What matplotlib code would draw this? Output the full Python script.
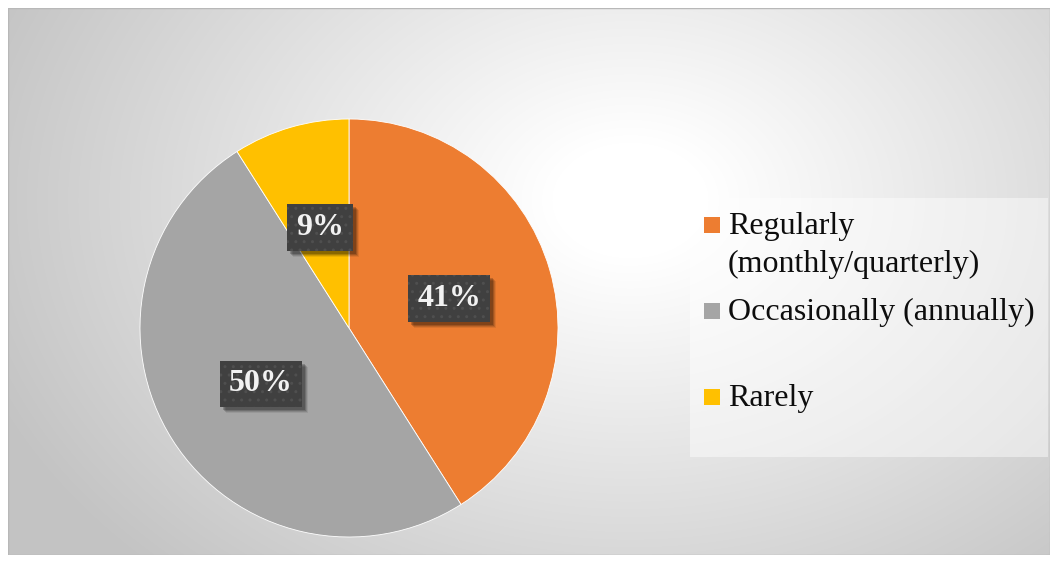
import numpy as np
import matplotlib
matplotlib.use("Agg")
import matplotlib.pyplot as plt
from matplotlib.patches import Rectangle
from matplotlib.transforms import IdentityTransform

# Survey shares (%), in drawing order starting at 12 o'clock, clockwise
categories = ["Regularly\n(monthly/quarterly)", "Occasionally (annually)", "Rarely"]
shares = [41, 50, 9]
pct_labels = ["41%", "50%", "9%"]
colors = ["#ED7D31", "#A5A5A5", "#FFC000"]

W, H = 1053, 562
fig = plt.figure(figsize=(W / 100, H / 100), dpi=100)
fig.patch.set_facecolor("white")

# Chart area with a soft radial gradient
x0, y0, x1, y1 = 8, 8, 1050, 555
bg = fig.add_axes([x0 / W, 1 - y1 / H, (x1 - x0) / W, (y1 - y0) / H])
bg.set_axis_off()
xx, yy = np.meshgrid(np.arange(x0, x1), np.arange(y0, y1))
d = np.sqrt(((xx - 630) / 650.0) ** 2 + ((yy - 200) / 480.0) ** 2)
t = np.clip((d - 0.12) / 0.95, 0, 1)
val = 1.0 - 0.235 * t
bg.imshow(np.dstack([val, val, val]), extent=(0, 1, 0, 1), aspect="auto",
          interpolation="bilinear", origin="upper")
bg.set_xlim(0, 1)
bg.set_ylim(0, 1)
bg.add_patch(Rectangle((0, 0), 1, 1, fill=False, edgecolor="#b8b8b8",
                       linewidth=1.0, transform=bg.transAxes))

# Pie
cx, cy, r = 349, 328, 209
ax = fig.add_axes([(cx - r) / W, 1 - (cy + r) / H, 2 * r / W, 2 * r / H])
ax.set_axis_off()
wedges, _ = ax.pie(shares, colors=colors, startangle=90, counterclock=False,
                   radius=1.0, wedgeprops=dict(edgecolor="white", linewidth=0.6))
ax.set_xlim(-1, 1)
ax.set_ylim(-1, 1)
ax.set_aspect("auto")

# Data labels: dark dotted boxes with a drop shadow
serif = ["Liberation Serif", "DejaVu Serif"]
labels = []
start = 90.0
for share, lab in zip(shares, pct_labels):
    mid = np.deg2rad(start - share * 3.6 / 2)
    start -= share * 3.6
    lx, ly = 0.5 * np.cos(mid), 0.5 * np.sin(mid)
    txt = ax.text(lx, ly, lab, ha="center", va="center", fontsize=23,
                  fontweight="bold", family=serif, color="#f2f2f2", zorder=10,
                  bbox=dict(boxstyle="square,pad=0.28", linewidth=0,
                            facecolor="#404040", edgecolor="#4f4f4f",
                            hatch=".."))
    labels.append(txt)

fig.canvas.draw()
renderer = fig.canvas.get_renderer()
for txt in labels:
    bb = txt.get_bbox_patch().get_window_extent(renderer)
    for k, a in ((6, 0.08), (5, 0.12), (4, 0.16), (3, 0.2)):
        ax.add_artist(Rectangle((bb.x0 + k, bb.y0 - k), bb.width, bb.height,
                                transform=IdentityTransform(), facecolor="black",
                                alpha=a, linewidth=0, zorder=4, clip_on=False))

# Legend panel
lx0, ly0, lx1, ly1 = 690, 198, 1048, 457
fig.patches.append(Rectangle((lx0 / W, 1 - ly1 / H), (lx1 - lx0) / W,
                             (ly1 - ly0) / H, transform=fig.transFigure,
                             facecolor="white", alpha=0.45, linewidth=0))
baselines = [234, 320, 406]
for name, col, base in zip(categories, colors, baselines):
    fig.patches.append(Rectangle((704 / W, 1 - (base - 1) / H), 16 / W, 16 / H,
                                 transform=fig.transFigure, facecolor=col,
                                 linewidth=0))
    for i, line in enumerate(name.split("\n")):
        fig.text(728 / W, 1 - (base + 38 * i) / H, line, ha="left",
                 va="baseline", fontsize=23, family=serif, color="#0d0d0d")

fig.savefig("out.png", dpi=100)
